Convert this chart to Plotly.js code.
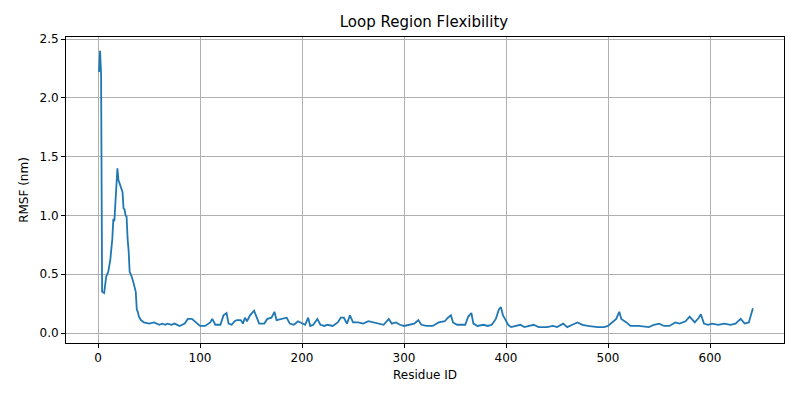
<!DOCTYPE html>
<html>
<head>
<meta charset="utf-8">
<script src="https://cdn.plot.ly/plotly-3.0.1.min.js"></script>
<style>body{margin:0;background:#fff}#chart{width:800px;height:400px}</style>
</head>
<body>
<div id="chart"></div>
<script>
// Residue IDs and RMSF values (nm)
const residueIds = [1,2,3,4,6,8,10,12,14,15,16,18,19,20,22,24,25,26,27,28,29,30,31,33,35,37,38,39,40,42,45,50,55,60,63,66,68,72,75,80,85,88,92,95,100,105,110,112,115,120,123,126,128,131,134,136,140,142,144,146,149,153,156,158,163,166,170,173,175,180,185,188,192,196,200,203,206,208,211,215,218,222,225,230,235,238,241,244,247,250,255,260,265,270,275,280,285,288,292,296,300,305,310,314,317,322,328,334,340,343,346,348,352,360,363,366,368,372,378,382,386,390,393,395,397,399,402,405,410,414,418,422,427,432,440,446,450,456,460,465,470,475,480,490,496,500,505,508,511,513,518,522,530,540,545,550,555,560,566,570,576,580,585,589,591,594,598,602,608,614,620,625,630,634,638,642];
const rmsf = [2.22,2.4,2.2,0.35,0.34,0.48,0.52,0.62,0.8,0.97,0.95,1.2,1.4,1.3,1.25,1.2,1.06,1.05,1.0,0.99,0.8,0.7,0.52,0.48,0.42,0.35,0.2,0.18,0.14,0.11,0.09,0.08,0.09,0.07,0.08,0.07,0.08,0.07,0.08,0.06,0.08,0.12,0.12,0.1,0.06,0.06,0.09,0.12,0.07,0.07,0.15,0.17,0.08,0.07,0.1,0.11,0.11,0.08,0.13,0.1,0.15,0.19,0.12,0.08,0.08,0.12,0.13,0.18,0.11,0.12,0.13,0.08,0.07,0.1,0.08,0.07,0.13,0.06,0.07,0.12,0.07,0.06,0.07,0.06,0.09,0.13,0.13,0.08,0.15,0.09,0.09,0.08,0.1,0.09,0.08,0.07,0.12,0.08,0.09,0.07,0.06,0.07,0.08,0.11,0.07,0.06,0.06,0.09,0.1,0.13,0.15,0.09,0.07,0.07,0.14,0.17,0.08,0.06,0.07,0.06,0.07,0.12,0.2,0.22,0.15,0.12,0.07,0.05,0.06,0.07,0.05,0.06,0.07,0.05,0.05,0.06,0.05,0.08,0.05,0.07,0.09,0.07,0.06,0.05,0.05,0.06,0.1,0.12,0.18,0.12,0.09,0.06,0.06,0.05,0.07,0.08,0.06,0.06,0.09,0.08,0.1,0.14,0.09,0.13,0.16,0.08,0.07,0.08,0.07,0.08,0.07,0.08,0.12,0.08,0.09,0.21];

const axisStyle = {
    showgrid: true, gridcolor: '#b0b0b0', gridwidth: 1,
    zeroline: false, showline: true, linecolor: '#000', linewidth: 1, mirror: true,
    ticks: 'outside', ticklen: 4, tickcolor: '#000',
    tickfont: { size: 12, color: '#000' }
};

Plotly.newPlot('chart', [{
    x: residueIds, y: rmsf,
    type: 'scatter', mode: 'lines',
    line: { color: '#1f77b4', width: 1.8 }
}], {
    width: 800, height: 400,
    margin: { l: 66, r: 16, t: 37, b: 57 },
    paper_bgcolor: '#fff', plot_bgcolor: '#fff',
    font: { family: 'DejaVu Sans', color: '#000' },
    showlegend: false,
    title: { text: 'Loop Region Flexibility', font: { size: 15 }, x: 0.53, y: 0.96 },
    xaxis: Object.assign({}, axisStyle, {
        range: [-31.4, 672.5], tickvals: [0,100,200,300,400,500,600],
        title: { text: 'Residue ID', font: { size: 12 }, standoff: 6 }
    }),
    yaxis: Object.assign({}, axisStyle, {
        range: [-0.085, 2.517], tickvals: [0,0.5,1,1.5,2,2.5], ticktext: ['0.0','0.5','1.0','1.5','2.0','2.5'],
        title: { text: 'RMSF (nm)', font: { size: 12 }, standoff: 8 }
    })
}, { staticPlot: true });
</script>
</body>
</html>
